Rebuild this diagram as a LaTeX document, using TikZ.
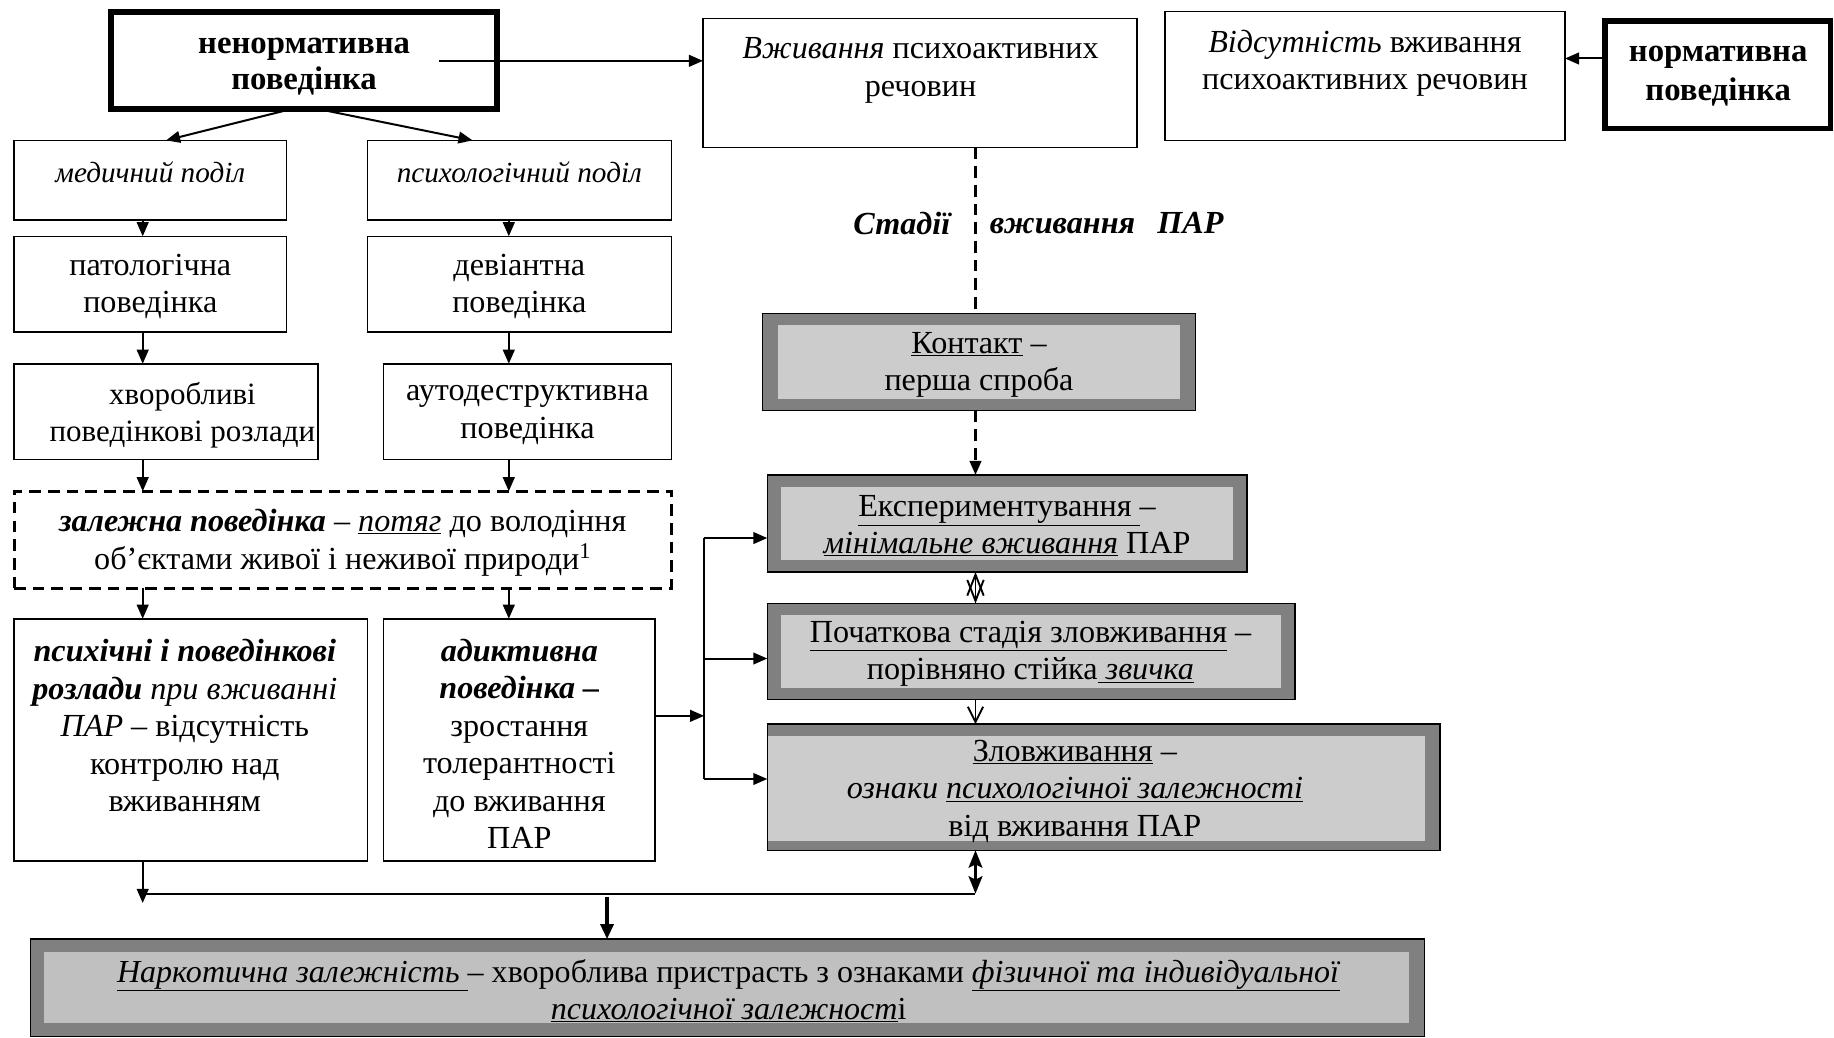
\documentclass[tikz,border=0pt]{standalone}
\usepackage{fontspec}
\setmainfont{Liberation Serif}
\usetikzlibrary{arrows.meta,calc}
\definecolor{frameg}{HTML}{808080}
\definecolor{innerg}{HTML}{CCCCCC}
\definecolor{innerh}{HTML}{C0C0C0}
\begin{document}
\begin{tikzpicture}[x=1pt,y=-1pt,
  box/.style={draw=black, line width=1.3pt, fill=white, inner sep=0pt, outer sep=0pt},
  thickbox/.style={draw=black, line width=4.8pt, fill=white, inner sep=0pt, outer sep=0pt},
  dbox/.style={draw=black, line width=2.6pt, dash pattern=on 10pt off 6pt, inner sep=0pt, outer sep=0pt},
  gframe/.style={draw=black, line width=1.3pt, fill=frameg, inner sep=0pt, outer sep=0pt},
  txt/.style={align=center, inner sep=0pt, font=\fontsize{27.5}{32}\selectfont},
  ln/.style={line width=1.7pt},
  arr/.style={line width=1.7pt, -{Triangle[length=12pt,width=10pt]}},
  thickarr/.style={line width=3.2pt, -{Triangle[length=13pt,width=11pt]}},
  dline/.style={line width=1.9pt, dash pattern=on 10pt off 6pt},
  darr/.style={line width=1.9pt, dash pattern=on 10pt off 6pt, -{Triangle[length=12pt,width=10pt]}},
  openarr/.style={line width=1.6pt, -{Straight Barb[length=13pt,width=13pt]}},
  openboth/.style={line width=1.6pt, {Straight Barb[length=18pt,width=14pt]}-{Straight Barb[length=18pt,width=14pt]}},
  dblarr/.style={line width=1.8pt, {Stealth[length=15pt,width=12pt,inset=3pt]}-{Stealth[length=15pt,width=12pt,inset=3pt]}}
]
\useasboundingbox (0,0) rectangle (1568,887);
\fill[white] (0,0) rectangle (1568,887);

% ---------- top row ----------
\node[thickbox, minimum width=330pt, minimum height=83pt] (nen) at (260,51.5) {};
\node[txt, font=\fontsize{28}{31}\selectfont\bfseries] (nenT) at (260,57) {ненормативна\\поведінка};
\node[box, minimum width=371pt, minimum height=110pt] (vzh) at (786.5,71) {};
\node[txt] (vzhT) at (787,60) {\textit{Вживання} психоактивних\\речовин};
\node[box, minimum width=342pt, minimum height=110pt] (vzd) at (1167,65) {};
\node[txt] (vzdT) at (1167,54) {\textit{Відсутність} вживання\\психоактивних речовин};
\node[thickbox, minimum width=193pt, minimum height=92pt] (norm) at (1468.5,64) {};
\node[txt, font=\fontsize{28}{33}\selectfont\bfseries] (normT) at (1469,65) {нормативна\\поведінка};

% ---------- left columns ----------
\node[box, minimum width=233pt, minimum height=68pt] (med) at (128.5,154) {};
\node[txt, font=\fontsize{25}{30}\selectfont\itshape] (medT) at (128.5,147) {медичний поділ};
\node[box, minimum width=260pt, minimum height=68pt] (psl) at (444,154) {};
\node[txt, font=\fontsize{25}{30}\selectfont\itshape] (pslT) at (444,147) {психологічний поділ};

\node[box, minimum width=233pt, minimum height=82pt] (pat) at (128.5,243) {};
\node[txt] (patT) at (128.5,245) {патологічна\\поведінка};
\node[box, minimum width=260pt, minimum height=82pt] (dev) at (444,243) {};
\node[txt] (devT) at (444,245) {девіантна\\поведінка};

\node[box, minimum width=260pt, minimum height=82pt] (hv) at (142,352) {};
\node[txt, font=\fontsize{26.5}{32}\selectfont] (hvT) at (156,355) {хворобливі\\поведінкові розлади};
\node[box, minimum width=246pt, minimum height=82pt] (aut) at (451,352) {};
\node[txt] (autT) at (451,355) {аутодеструктивна\\поведінка};

\node[dbox, minimum width=562pt, minimum height=83pt] (zal) at (293,461.5) {};
\node[txt] (zalT) at (293,464) {\textbf{\textit{залежна поведінка}} – \underline{\textit{потяг}} до володіння\\об’єктами живої і неживої природи\textsuperscript{1}};

\node[box, minimum width=302pt, minimum height=207pt] (psy) at (163,632.5) {};
\node[txt] (psyT) at (158,620.5) {\textbf{\textit{психічні і поведінкові}}\\\textbf{\textit{розлади}} \textit{при вживанні}\\\textit{ПАР} – відсутність\\контролю над\\вживанням};
\node[box, minimum width=232pt, minimum height=207pt] (adk) at (444,632.5) {};
\node[txt] (adkT) at (444,636) {\textbf{\textit{адиктивна}}\\\textbf{\textit{поведінка –}}\\зростання\\толерантності\\до вживання\\ПАР};

% ---------- stages ----------
\node[txt, font=\fontsize{27.5}{32}\selectfont\bfseries\itshape] (st1) at (771,191) {Стадії};
\node[txt, font=\fontsize{27.5}{32}\selectfont\bfseries\itshape, anchor=west] (st2) at (846,191) {вживання\hspace{19pt}ПАР};

\node[gframe, minimum width=370pt, minimum height=83pt] (kon) at (837,309.5) {};
\fill[innerg] ($(kon.north west)+(13,10)$) rectangle ($(kon.south east)+(-13,-10)$);
\node[txt] (konT) at (837,312) {\underline{Контакт} –\\перша спроба};

\node[gframe, minimum width=410pt, minimum height=83pt] (exp) at (861,447.5) {};
\fill[innerg] ($(exp.north west)+(12,10)$) rectangle ($(exp.south east)+(-12,-10)$);
\node[txt] (expT) at (861,449.5) {\underline{Експериментування }–\\\underline{\textit{мінімальне вживання}} ПАР};

\node[gframe, minimum width=451pt, minimum height=82pt] (poc) at (881.5,557) {};
\fill[innerg] ($(poc.north west)+(12,10)$) rectangle ($(poc.south east)+(-12,-10)$);
\node[txt] (pocT) at (881,559) {\underline{Початкова стадія зловживання} –\\порівняно стійка\underline{ \textit{звичка}}};

\node[gframe, minimum width=575pt, minimum height=108pt] (zlo) at (943.5,673) {};
\fill[innerg] ($(zlo.north west)+(1,10)$) rectangle ($(zlo.south east)+(-13,-8)$);
\node[txt] (zloT) at (919,676.5) {\underline{Зловживання} –\\\textit{ознаки \underline{психологічної залежності}}\\від вживання ПАР};

\node[gframe, minimum width=1192pt, minimum height=83pt] (nar) at (622,844.5) {};
\fill[innerh] ($(nar.north west)+(12,11)$) rectangle ($(nar.south east)+(-13,-11)$);
\node[txt, font=\fontsize{27.4}{32}\selectfont] (narT) at (623,847) {\underline{\textit{Наркотична залежність} }– хвороблива пристрасть з ознаками \underline{\textit{фізичної та індивідуальної}}\\\underline{\textit{психологічної залежност}}і};

% ---------- coordinates ----------
\coordinate (cl) at (122,0);
\coordinate (cr) at (435,0);
\coordinate (sx) at (834,0);
\coordinate (a1) at (375,52);
\coordinate (a2) at (1372,50);
\coordinate (b1) at (602,612);
\coordinate (b2) at (602,460);
\coordinate (b3) at (602,563);
\coordinate (b4) at (602,666);
\coordinate (h0) at (122,772);
\coordinate (h1) at (122,764);
\coordinate (h2) at (834,764);
\coordinate (t1) at (519,767);

% ---------- connectors ----------
\draw[arr] (a1) -- (a1 -| vzh.west);
\draw[arr] (a2) -- (a2 -| vzd.east);
\draw[arr] ($(nen.south)+(-10,0)$) -- ($(med.north)+(13.5,0)$);
\draw[arr] ($(nen.south)+(11,0)$) -- ($(psl.north)+(-40,0)$);
\draw[arr] (med.south -| cl) -- (pat.north -| cl);
\draw[arr] (psl.south -| cr) -- (dev.north -| cr);
\draw[arr] (pat.south -| cl) -- (hv.north -| cl);
\draw[arr] (dev.south -| cr) -- (aut.north -| cr);
\draw[arr] (hv.south -| cl) -- (zal.north -| cl);
\draw[arr] (aut.south -| cr) -- (zal.north -| cr);
\draw[arr] (zal.south -| cl) -- (psy.north -| cl);
\draw[arr] (zal.south -| cr) -- (adk.north -| cr);

\draw[arr] (adk.east |- b1) -- (b1);
\draw[ln] (b2) -- (b4);
\draw[arr] (b2) -- (b2 -| exp.west);
\draw[arr] (b3) -- (b3 -| poc.west);
\draw[arr] (b4) -- (b4 -| zlo.west);

\draw[dline] (vzh.south -| sx) -- (kon.north -| sx);
\draw[darr] (kon.south -| sx) -- (exp.north -| sx);
\draw[openboth] (exp.south -| sx) -- (poc.north -| sx);
\draw[openarr] (poc.south -| sx) -- (zlo.north -| sx);

\draw[arr] (psy.south -| cl) -- (h0);
\draw[ln] (h1) -- (h2);
\draw[thickarr] (t1) -- (nar.north -| t1);
\draw[dblarr] (h2) -- (zlo.south -| sx);
\end{tikzpicture}
\end{document}
